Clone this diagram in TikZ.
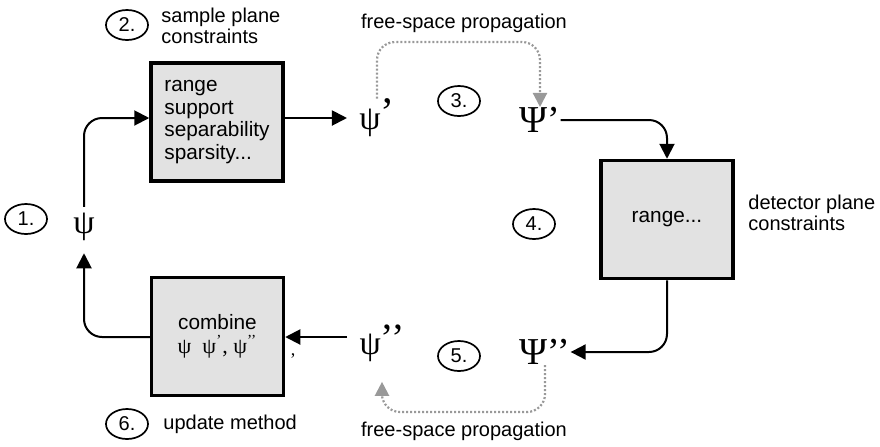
\documentclass[tikz,border=0pt]{standalone}
\usepackage{fontspec}
\setmainfont{Liberation Sans}
\newfontfamily\grk{Liberation Serif}
\usetikzlibrary{arrows.meta,shapes.geometric}
\definecolor{boxgray}{HTML}{E2E2E2}
\definecolor{propgray}{HTML}{999999}
\begin{document}
\begin{tikzpicture}[x=0.5pt,y=-0.5pt,
  lbl/.style={font=\fontsize{10}{10.2}\selectfont, inner sep=0pt},
  box/.style={draw, line width=1.75pt, fill=boxgray, minimum width=66pt, minimum height=59pt, inner sep=0pt, font=\fontsize{10.4}{11.2}\selectfont},
  num/.style={draw, ellipse, line width=0.85pt, minimum width=21pt, minimum height=15pt, inner sep=0pt, font=\fontsize{10}{12}\selectfont},
  conn/.style={line width=1pt, -{Triangle[length=7.5pt,width=7.5pt]}, rounded corners=9pt},
  prop/.style={line width=1.1pt, dash pattern=on 1pt off 1pt, color=propgray, -{Triangle[length=7pt,width=7pt]}, rounded corners=9pt},
  sym/.style={inner sep=0pt, font=\grk\fontsize{17}{17}\selectfont},
  bigsym/.style={inner sep=0pt, font=\grk\fontsize{19}{19}\selectfont}
]
\useasboundingbox (0,0) rectangle (880,446);

% boxes
\node[box, align=left] (b1) at (217,122) {range\\support\\separability\\sparsity...};
\node[box] (b2) at (667,219.5) {range...};
\node[box, align=center] (b3) at (217.5,336.5) {combine\\[1pt]{\grk\fontsize{11}{11}\selectfont ψ\ \ ψ\textsuperscript{’}, ψ\textsuperscript{’’}}};

% symbols
\node[sym] (p0) at (84,227) {ψ};
\node[sym] (p1) at (377,118) {ψ\raisebox{1.5pt}{\fontsize{21}{21}\selectfont ’}};
\node[bigsym] (P1) at (540,120) {Ψ’};
\node[bigsym] (P2) at (545,352) {Ψ’’};
\node[sym] (p2) at (382,343) {ψ\raisebox{1.5pt}{\fontsize{20}{20}\selectfont ’’}};

% numbered circles
\node[num] (c1) at (26,219) {1.};
\node[num] (c2) at (127,25) {2.};
\node[num] (c3) at (459,101) {3.};
\node[num] (c4) at (534,224) {4.};
\node[num] (c5) at (459,356) {5.};
\node[num] (c6) at (127,424) {6.};

% labels
\node[lbl, anchor=west, align=left] (t2) at (161,26) {sample plane\\constraints};
\node[lbl, anchor=west, align=left] (t4) at (748,213) {detector plane\\constraints};
\node[lbl] (fs1) at (464,23) {free-space propagation};
\node[lbl] (fs2) at (464,431) {free-space propagation};
\node[lbl, anchor=west] (t6) at (163,424) {update method};
\node[inner sep=0pt, font=\grk\fontsize{9}{9}\selectfont] (cm) at (293,356) {,};

% connectors
\draw[conn, shorten <=3pt] (p0.north) |- (b1.west |- 0,118);
\draw[conn, shorten >=6pt] (b1.east |- 0,118) -- (p1.west |- 0,118);
\draw[conn] (P1.east) -| (b2.north);
\draw[conn] (b2.south) |- (P2.east);
\draw[conn, shorten <=6pt] (p2.west |- 0,337) -- (b3.east |- 0,337);
\draw[conn, shorten >=6pt] (b3.west |- 0,337) -| (p0.south);

% free-space propagation
\draw[prop] (p1.north) -- (p1.north |- 0,42) -| (P1.north);
\draw[prop, shorten >=10pt] (P2.south) -- (P2.south |- 0,412) -| (p2.south);
\end{tikzpicture}
\end{document}
